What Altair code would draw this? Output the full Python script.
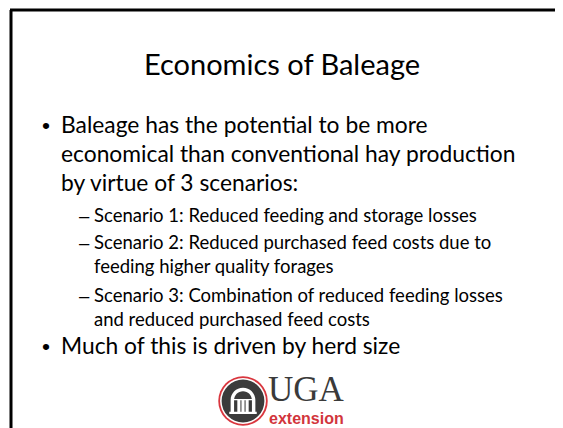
import altair as alt
import pandas as pd

# ---- content ----
title = "Economics of Baleage"
body_text = [
    "Baleage has the potential to be more",
    "economical than conventional hay production",
    "by virtue of 3 scenarios:",
    "Scenario 1: Reduced feeding and storage losses",
    "Scenario 2: Reduced purchased feed costs due to",
    "feeding higher quality forages",
    "Scenario 3: Combination of reduced feeding losses",
    "and reduced purchased feed costs",
    "Much of this is driven by herd size",
]
body_level = [1, 1, 1, 2, 2, 2, 2, 2, 1]
body_marker = [True, False, False, True, True, False, True, False, True]
logo_word = "UGA"
logo_sub = "extension"

# ---- layout (page pixel coordinates) ----
W, H = 547, 420
row_baseline = [133, 162, 191, 222, 249, 273, 302, 326, 354]
indent_text = {1: 61, 2: 94}
indent_mark = {1: 42, 2: 79}
marker_char = {1: "\u2022", 2: "\u2013"}
size_text = {1: 22.8, 2: 18.5}
FONT = "Lato"

xs = alt.Scale(domain=[8, 8 + W], range=[0, W])
ys = alt.Scale(domain=[8, 8 + H], range=[0, H])
X = lambda f: alt.X(f, type="quantitative", scale=xs, axis=None)
Y = lambda f: alt.Y(f, type="quantitative", scale=ys, axis=None)

# frame
frame = pd.DataFrame({"x": [10, 11], "x2": [563, 11], "y": [10, 10], "y2": [10, 428]})
frame_layer = alt.Chart(frame).mark_rule(color="black", strokeWidth=3).encode(
    x=X("x"), x2="x2", y=Y("y"), y2="y2")

title_layer = alt.Chart(pd.DataFrame({"t": [title], "x": [282], "y": [75]})).mark_text(
    font=FONT, fontSize=29, align="center", baseline="alphabetic", color="black"
).encode(x=X("x"), y=Y("y"), text="t:N")

layers = [frame_layer, title_layer]
for lvl in (1, 2):
    rows = [i for i in range(len(body_text)) if body_level[i] == lvl]
    df = pd.DataFrame({"t": [body_text[i] for i in rows],
                       "x": [indent_text[lvl]] * len(rows),
                       "y": [row_baseline[i] for i in rows]})
    layers.append(alt.Chart(df).mark_text(
        font=FONT, fontSize=size_text[lvl], align="left", baseline="alphabetic", color="black"
    ).encode(x=X("x"), y=Y("y"), text="t:N"))
    mrows = [i for i in rows if body_marker[i]]
    dm = pd.DataFrame({"t": [marker_char[lvl]] * len(mrows),
                       "x": [indent_mark[lvl]] * len(mrows),
                       "y": [row_baseline[i] for i in mrows]})
    layers.append(alt.Chart(dm).mark_text(
        font="Liberation Sans", fontSize=size_text[lvl],
        align="left", baseline="alphabetic", color="black"
    ).encode(x=X("x"), y=Y("y"), text="t:N"))

# logo
cx, cy = 243, 401
logo_pt = pd.DataFrame({"x": [cx], "y": [cy]})
ring = alt.Chart(logo_pt).mark_point(shape="circle", filled=True, size=2450, color="#d9363e", opacity=1).encode(x=X("x"), y=Y("y"))
ring2 = alt.Chart(logo_pt).mark_point(shape="circle", filled=True, size=2100, color="white", opacity=1).encode(x=X("x"), y=Y("y"))
disc = alt.Chart(logo_pt).mark_point(shape="circle", filled=True, size=1830, color="#3b3b3b", opacity=1).encode(x=X("x"), y=Y("y"))
arch_path = ("M-0.72,-0.05 A0.72,0.72 0 0,1 0.72,-0.05 L0.72,0.62 L0.52,0.62 L0.52,-0.05 "
             "A0.52,0.52 0 0,0 -0.52,-0.05 L-0.52,0.62 L-0.72,0.62 Z "
             "M-0.33,-0.05 h0.18 v0.67 h-0.18 Z M-0.09,-0.05 h0.18 v0.67 h-0.18 Z "
             "M0.15,-0.05 h0.18 v0.67 h-0.18 Z M-0.8,0.62 h1.6 v0.14 h-1.6 Z "
             "M-0.55,-0.12 h1.1 v0.07 h-1.1 Z")
icon = alt.Chart(logo_pt).mark_point(shape=arch_path, filled=True, size=1180, color="white", opacity=1).encode(x=X("x"), y=Y("y"))
uga = alt.Chart(pd.DataFrame({"t": [logo_word], "x": [268], "y": [401]})).mark_text(
    font="Liberation Serif", fontSize=35, align="left", baseline="alphabetic", color="#3a3a3a"
).encode(x=X("x"), y=Y("y"), text="t:N")
ext = alt.Chart(pd.DataFrame({"t": [logo_sub], "x": [269], "y": [424]})).mark_text(
    font="Liberation Sans", fontSize=16, fontWeight="bold", align="left", baseline="alphabetic", color="#d2353c"
).encode(x=X("x"), y=Y("y"), text="t:N")
layers += [ring, ring2, disc, icon, uga, ext]

chart = alt.layer(*layers).properties(
    width=W, height=H, padding=0, autosize=alt.AutoSizeParams(type="none"), background="white"
).configure_view(stroke=None)

chart.save("out.html", embed_options={"renderer": "svg", "actions": False})
